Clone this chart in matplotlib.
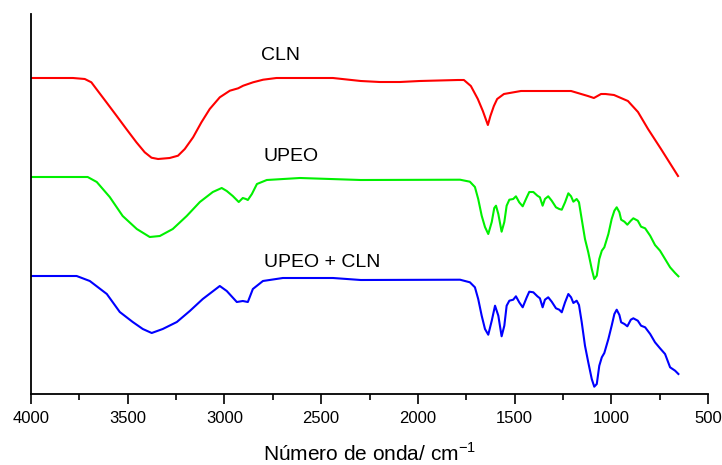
import matplotlib
matplotlib.use("Agg")
import matplotlib.pyplot as plt
from matplotlib.ticker import MultipleLocator

plt.rcParams['font.family'] = ['Liberation Sans', 'DejaVu Sans']
plt.rcParams['mathtext.fontset'] = 'custom'
plt.rcParams['mathtext.rm'] = 'Liberation Sans'

# CLN (red)
cln_wn = [4000, 3783, 3722, 3688, 3662, 3610, 3558, 3507, 3455, 3412, 3377, 3343, 3283,
          3240, 3205, 3162, 3119, 3076, 3024, 2972, 2929, 2903, 2852, 2800, 2731, 2610,
          2439, 2295, 2197, 2093, 1990, 1793, 1762, 1726, 1690, 1664, 1638, 1625, 1607,
          1590, 1555, 1467, 1208, 1121, 1090, 1053, 1030, 986, 914, 862, 810, 743, 655]
cln_t = [316, 316, 315, 311.7, 305, 291.7, 278.3, 265, 251.7, 241.7, 236.3, 235, 236,
         238.3, 245, 256.7, 271.7, 285, 296.7, 303.3, 305.7, 308.3, 311.7, 314.3, 316, 316,
         316, 313, 312, 312, 313, 314, 314, 308, 295, 283, 269, 278, 288,
         295, 300, 303, 303, 298, 296, 300, 300, 299, 293, 282, 265, 245, 218]

# UPEO (green)
upeo_wn = [4000, 3707, 3660, 3593, 3526, 3453, 3386, 3334, 3267, 3195, 3127, 3060, 3014,
           2988, 2957, 2926, 2905, 2889, 2879, 2858, 2832, 2781, 2610, 2295,
           1782, 1731, 1705, 1688, 1670, 1653, 1636, 1618, 1605, 1596, 1584, 1567, 1553,
           1541, 1527, 1507, 1493, 1476, 1458, 1437, 1424, 1403, 1382, 1369, 1355, 1343,
           1326, 1308, 1286, 1269, 1256, 1239, 1222, 1208, 1196, 1179, 1167, 1153, 1136,
           1119, 1101, 1088, 1075, 1062, 1049, 1036, 1015, 998, 984, 972, 958, 949, 932,
           917, 899, 886, 863, 846, 825, 799, 774, 748, 722, 696, 670, 653]
upeo_t = [217, 217, 212, 197, 178, 165, 157, 158, 165, 178, 192, 202, 206,
          203, 198, 192, 196, 195, 194, 200, 210, 214, 216, 214,
          214.3, 212.3, 207, 195, 178.3, 167, 160, 172, 186, 188.3, 180, 162.3, 172,
          188.3, 194.3, 195, 197.7, 191.7, 187.7, 196.7, 202, 202, 198.3, 196.7, 188.3, 195,
          197.7, 193.3, 186.7, 185, 184.3, 191.7, 200.7, 197.7, 192.3, 195, 191.7, 175, 155,
          141.7, 125, 115, 118.3, 135, 143.3, 146.7, 160, 175, 183.3, 186.7, 181.7, 174.3, 172.3,
          169.3, 173.3, 175.7, 173.3, 167.3, 165.7, 158.3, 149, 143.3, 135, 126.7, 121, 117.7]

# UPEO + CLN (blue)
mix_wn = [4000, 3764, 3696, 3608, 3541, 3474, 3422, 3376, 3319, 3246, 3179, 3112, 3024,
          2988, 2936, 2905, 2879, 2853, 2801, 2698, 2439, 2295,
          1782, 1731, 1705, 1688, 1670, 1653, 1636, 1618, 1601, 1584, 1567, 1553,
          1541, 1527, 1507, 1493, 1476, 1458, 1437, 1424, 1403, 1382, 1369, 1355, 1343,
          1326, 1308, 1286, 1269, 1256, 1239, 1222, 1208, 1196, 1179, 1167, 1153, 1136,
          1119, 1101, 1088, 1075, 1062, 1049, 1036, 1015, 998, 984, 972, 958, 949, 932,
          917, 899, 886, 863, 846, 825, 799, 774, 748, 722, 696, 670, 653]
mix_t = [118, 118, 113, 100, 82, 72, 65, 61, 65, 72, 83, 95, 108,
         103, 92, 93, 92, 105, 113, 116, 116, 114,
         114.3, 111.7, 106.7, 95, 78.3, 65, 59.3, 73.3, 88.3, 78.3, 57.7, 68.3,
         88.3, 93.3, 94.3, 97.7, 91.7, 86.7, 96.7, 102.3, 101.7, 97.7, 95.7, 86.7, 94.3,
         96.7, 92.3, 85.7, 84.3, 81.7, 91.7, 100, 96.7, 91, 93.3, 89, 72, 48.3,
         31.7, 15, 7.3, 10, 28.3, 36.7, 41, 55, 68.3, 80, 84.3, 79, 71.7, 70,
         67.7, 74.3, 75.7, 73.3, 68.3, 66.7, 60, 51.7, 45.7, 40, 26.7, 23.3, 20]

labels = ["CLN", "UPEO", "UPEO + CLN"]
label_pos = [(2811, 334), (2800, 233), (2796, 127)]

fig = plt.figure(figsize=(7.22, 4.65), dpi=100)
ax = fig.add_axes([31/722, 71/465, 677/722, 380/465])

ax.plot(cln_wn, cln_t, color='#ff0000', lw=1.5)
ax.plot(upeo_wn, upeo_t, color='#00f000', lw=1.5)
ax.plot(mix_wn, mix_t, color='#0000ff', lw=1.5)

for lab, (x, y) in zip(labels, label_pos):
    ax.text(x, y, lab, fontsize=14, ha='left', va='baseline')

ax.set_xlim(4000, 500)
ax.set_ylim(0, 380)
ax.xaxis.set_major_locator(MultipleLocator(500))
ax.xaxis.set_minor_locator(MultipleLocator(250))
ax.set_yticks([])
for s in ['top', 'right']:
    ax.spines[s].set_visible(False)
for s in ['left', 'bottom']:
    ax.spines[s].set_linewidth(1.3)
ax.tick_params(axis='x', which='major', direction='out', length=7, width=1.2, labelsize=12, pad=5)
ax.tick_params(axis='x', which='minor', direction='out', length=4, width=1.2)
ax.set_xlabel(r'Número de onda/ cm$^{\mathregular{-1}}$', fontsize=15, labelpad=12)

fig.savefig('out.png', dpi=100)
